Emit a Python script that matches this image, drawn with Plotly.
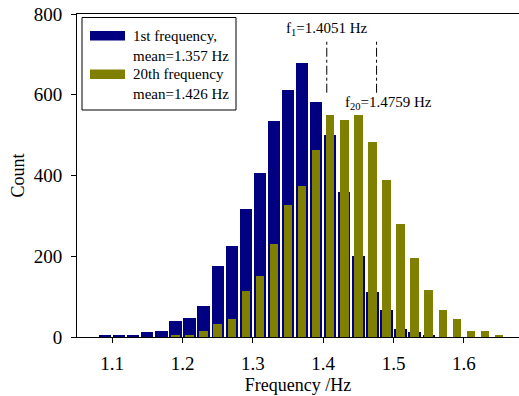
import plotly.graph_objects as go

bin_centers = [1.09, 1.11, 1.13, 1.15, 1.17, 1.19, 1.21, 1.23, 1.25, 1.27, 1.29, 1.31, 1.33,
               1.35, 1.37, 1.39, 1.41, 1.43, 1.45, 1.47, 1.49, 1.51, 1.53, 1.55, 1.57, 1.59,
               1.61, 1.63, 1.65]
counts_1st = [3, 3, 5, 12, 15, 39, 47, 77, 177, 226, 317, 405, 536,
              611, 679, 581, 501, 360, 200, 111, 67, 20, 13, 3, 0, 0,
              0, 0, 0]
counts_20th = [0, 0, 0, 0, 0, 5, 5, 16, 32, 45, 114, 150, 230,
               326, 375, 462, 551, 538, 551, 484, 388, 280, 195, 116, 67, 45,
               15, 15, 3]
name_1st = "1st frequency,<br>mean=1.357 Hz"
name_20th = "20th frequency<br>mean=1.426 Hz"
f1_value = 1.4051
f20_value = 1.4759
marker_span = [605, 735]
x_ticks = [1.1, 1.2, 1.3, 1.4, 1.5, 1.6]
y_ticks = [0, 200, 400, 600, 800]

BLUE = "#000080"
OLIVE = "#808000"
FONT = "Liberation Serif, Times New Roman, serif"

fig = go.Figure()
fig.add_trace(go.Bar(x=bin_centers, y=counts_1st, width=0.0175, marker=dict(color=BLUE, line=dict(width=0)),
                     name=name_1st, showlegend=False))
fig.add_trace(go.Bar(x=bin_centers, y=counts_20th, width=0.012, marker=dict(color=OLIVE, line=dict(width=0)),
                     name=name_20th, showlegend=False))

# dash-dot markers
for v in (f1_value, f20_value):
    fig.add_shape(type="line", xref="x", yref="y", x0=v, x1=v, y0=marker_span[0], y1=marker_span[1],
                  line=dict(color="black", width=1, dash="dashdot"))

fig.add_annotation(x=f1_value, y=762, xref="x", yref="y", text="f<sub>1</sub>=1.4051 Hz",
                   showarrow=False, font=dict(family=FONT, size=15, color="black"), xanchor="center")
fig.add_annotation(x=f20_value + 0.0165, y=580, xref="x", yref="y", text="f<sub>20</sub>=1.4759 Hz",
                   showarrow=False, font=dict(family=FONT, size=15, color="black"), xanchor="center")

# legend drawn manually
W, H = 519, 396
L, R, T, B = 77, 0, 14, 59
pw, ph = W - L - R, H - T - B
def px(x):
    return (x - L) / pw
def py(y):
    return 1 - (y - T) / ph

fig.add_shape(type="rect", xref="paper", yref="paper", x0=px(82), x1=px(236), y0=py(110), y1=py(17.5),
              line=dict(color="black", width=1), fillcolor="white")
for (y0, y1, col, label, ty) in [(31, 40.5, BLUE, name_1st, 45.5), (69.5, 79, OLIVE, name_20th, 84)]:
    fig.add_shape(type="rect", xref="paper", yref="paper", x0=px(90), x1=px(125), y0=py(y1), y1=py(y0),
                  line=dict(width=0), fillcolor=col)
    fig.add_annotation(x=px(131), y=py(ty), xref="paper", yref="paper", text=label, showarrow=False,
                       xanchor="left", yanchor="middle", align="left",
                       font=dict(family=FONT, size=15, color="black"))

fig.update_layout(
    width=W, height=H, barmode="overlay", bargap=0,
    margin=dict(l=L, r=R, t=T, b=B, pad=0),
    plot_bgcolor="white", paper_bgcolor="white",
    font=dict(family=FONT, size=19, color="black"),
    showlegend=False,
)
fig.update_xaxes(range=[1.05, 1.6784], tickvals=x_ticks, ticktext=[f"{v:.1f}" for v in x_ticks],
                 ticks="outside", ticklen=5, tickcolor="black", showgrid=False, zeroline=False,
                 showline=True, linecolor="black", linewidth=1, mirror=True, ticklabelstandoff=4,
                 title=dict(text="Frequency /Hz", font=dict(family=FONT, size=18), standoff=5))
fig.update_yaxes(range=[0, 800], tickvals=y_ticks, ticks="outside", ticklen=5, tickcolor="black",
                 showgrid=False, zeroline=False, showline=True, linecolor="black", linewidth=1,
                 ticklabelstandoff=5,
                 title=dict(text="Count", font=dict(family=FONT, size=18), standoff=4))

fig.write_html("out.html")
